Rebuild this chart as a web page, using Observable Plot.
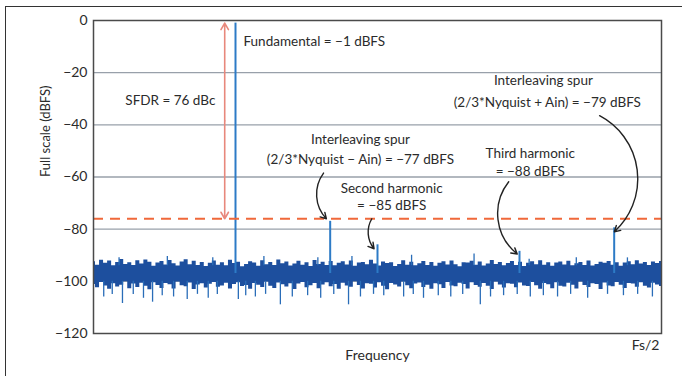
<!DOCTYPE html>
<html>
<head>
<meta charset="utf-8">
<script src="https://cdn.jsdelivr.net/npm/d3@7"></script>
<script src="https://cdn.jsdelivr.net/npm/@observablehq/plot@0.6"></script>
<style>
  html, body { margin: 0; padding: 0; background: #fff; }
  #wrap { position: relative; width: 691px; height: 376px; overflow: hidden; }
  #border { position: absolute; left: 5px; top: 6px; width: 676px; height: 400px;
            border-left: 1.5px solid #333; border-top: 1.5px solid #333; pointer-events: none; }
</style>
</head>
<body>
<div id="wrap"><div id="border"></div></div>
<script>
// ---- data ----
const yTicks = [0, -20, -40, -60, -80, -100, -120];
const gridLevels = [-20, -40, -60, -80, -100];

const peakName  = ["Fundamental", "Interleaving spur (−)", "Second harmonic", "Third harmonic", "Interleaving spur (+)"];
const peakFreq  = [0.25, 0.4167, 0.5, 0.75, 0.9167];
const peakLevel = [-1, -77, -86, -88.5, -79.5];

const sfdrLevel = -76;
const fundamentalLevel = -1;

// noise floor envelope (upper / lower edge of the dense band), evenly spread 0 .. Fs/2
const noiseHi = [
-92.5,-93.8,-91.9,-93.1,-92.2,-94.0,-92.8,-91.6,-93.5,-92.9,
-93.9,-92.1,-93.4,-91.8,-92.7,-94.2,-93.0,-92.4,-93.7,-92.0,
-93.3,-94.1,-92.6,-91.7,-93.6,-92.3,-93.9,-92.8,-94.3,-93.1,
-92.2,-93.8,-92.9,-94.0,-91.9,-93.2,-92.7,-94.4,-93.5,-92.5,
-93.0,-94.2,-92.1,-93.6,-92.8,-93.9,-91.8,-93.3,-92.6,-94.1,
-93.4,-92.3,-93.8,-92.9,-94.3,-92.0,-93.5,-92.7,-93.9,-92.4,
-94.0,-93.1,-92.5,-93.7,-92.2,-94.2,-93.0,-92.8,-93.6,-91.9,
-93.4,-94.1,-92.6,-93.2,-92.9,-94.3,-93.5,-92.1,-93.8,-92.7,
-94.0,-93.3,-92.4,-93.9,-92.8,-94.2,-93.1,-92.5,-93.7,-92.2,
-93.6,-94.4,-92.9,-93.0,-92.3,-93.8,-92.6,-94.1,-93.4,-92.0,
-93.5,-92.8,-94.0,-93.2,-92.4,-93.9,-92.7,-94.3,-93.1,-92.5,
-93.6,-92.1,-93.8,-92.9,-94.2,-93.0,-92.6,-93.7,-92.3,-94.0,
-93.3,-92.8,-93.9,-92.2,-94.1,-93.5,-92.7,-93.1,-92.4,-93.8,
-92.9,-94.2,-93.0,-92.5,-93.6,-92.1,-93.4,-92.8,-93.9,-92.6,
-93.2,-92.4];
const noiseLo = [
-101.2,-102.5,-100.4,-101.8,-103.0,-100.9,-102.2,-101.5,-100.2,-102.8,
-101.0,-102.4,-100.7,-101.9,-103.2,-100.5,-101.6,-102.7,-100.8,-101.3,
-102.9,-100.3,-101.7,-102.1,-100.6,-103.1,-101.4,-100.9,-102.6,-101.1,
-100.4,-102.3,-101.8,-100.7,-102.9,-101.2,-100.5,-102.0,-101.6,-103.0,
-100.8,-101.5,-102.4,-100.3,-101.9,-102.7,-100.6,-101.3,-102.2,-100.9,
-103.1,-101.0,-100.4,-102.5,-101.7,-100.8,-102.8,-101.4,-100.5,-102.1,
-101.2,-103.0,-100.7,-101.8,-102.3,-100.2,-101.6,-102.9,-100.9,-101.1,
-102.6,-100.5,-101.9,-103.2,-100.8,-101.4,-102.2,-100.3,-101.7,-102.8,
-101.0,-100.6,-102.4,-101.5,-103.0,-100.9,-101.3,-102.7,-100.4,-101.8,
-102.1,-100.7,-101.2,-102.9,-100.5,-101.6,-102.3,-100.8,-101.9,-103.1,
-100.3,-101.4,-102.6,-100.9,-101.1,-102.5,-100.6,-101.8,-102.0,-100.4,
-101.7,-103.0,-100.8,-101.3,-102.8,-100.5,-101.9,-102.2,-100.7,-101.5,
-102.9,-100.3,-101.6,-102.4,-100.9,-101.2,-103.1,-100.6,-101.8,-102.1,
-100.4,-101.5,-102.7,-100.8,-101.0,-102.3,-100.5,-101.9,-102.6,-100.7,
-101.4,-102.0];

// isolated downward noise spikes
const spikeDownFreq  = [0.018,0.033,0.051,0.070,0.088,0.104,0.121,0.141,0.165,0.183,0.202,0.218,0.255,0.268,0.285,0.303,0.329,0.350,0.377,0.400,0.423,0.449,0.470,0.493,0.511,0.546,0.563,0.581,0.607,0.629,0.650,0.681,0.699,0.722,0.746,0.769,0.792,0.817,0.840,0.870,0.905,0.933,0.958,0.984];
const spikeDownLevel = [-106,-105,-108.5,-105,-106.5,-108,-105.5,-106,-107,-105,-106.5,-105,-107,-105.5,-106,-105,-109,-106,-105.5,-106.5,-105,-109,-106,-105,-105.5,-106,-105,-106.5,-105.5,-106,-105,-109,-106,-105.5,-105,-106,-105.5,-106,-105,-106.5,-105,-105.5,-105,-106];
// isolated upward noise spikes
const spikeUpFreq  = [0.045,0.130,0.210,0.300,0.395,0.455,0.560,0.670,0.767,0.850,0.940];
const spikeUpLevel = [-91,-90.5,-91,-90.5,-91,-90.5,-90,-89.5,-91.5,-91,-91];

// ---- build tables ----
const noise = noiseHi.map((hi, i) => ({f: i / (noiseHi.length - 1), hi, lo: noiseLo[i]}));
const spikesDown = spikeDownFreq.map((f, i) => ({f, y: spikeDownLevel[i]}));
const spikesUp = spikeUpFreq.map((f, i) => ({f, y: spikeUpLevel[i]}));
const peaks = peakFreq.map((f, i) => ({name: peakName[i], f, y: peakLevel[i]}));

// annotation texts (anchored in data space)
const labels = [
  {text: "Fundamental = −1 dBFS", f: 0.264, y: -8, anchor: "start"},
  {text: "SFDR = 76 dBc", f: 0.056, y: -30.7, anchor: "start"},
  {text: "Interleaving spur", f: 0.470, y: -45.6, anchor: "middle"},
  {text: "(2/3*Nyquist − Ain) = −77 dBFS", f: 0.470, y: -53.3, anchor: "middle"},
  {text: "Second harmonic", f: 0.525, y: -64.6, anchor: "middle"},
  {text: "= −85 dBFS", f: 0.525, y: -70.9, anchor: "middle"},
  {text: "Interleaving spur", f: 0.792, y: -23.0, anchor: "middle"},
  {text: "(2/3*Nyquist + Ain) = −79 dBFS", f: 0.799, y: -31.4, anchor: "middle"},
  {text: "Third harmonic", f: 0.769, y: -51.0, anchor: "middle"},
  {text: "= −88 dBFS", f: 0.769, y: -57.8, anchor: "middle"}
];
const callouts = [
  {f1: 0.405, y1: -58.5, f2: 0.410, y2: -76.0, bend: -40},
  {f1: 0.490, y1: -76.0, f2: 0.494, y2: -87.5, bend: -35},
  {f1: 0.731, y1: -61.8, f2: 0.746, y2: -89.5, bend: -45},
  {f1: 0.891, y1: -36.5, f2: 0.917, y2: -81.0, bend: 55}
];
const sfdrX = 0.231;
const sfdrMid = (sfdrLevel + fundamentalLevel) / 2;

const font = "Lato, 'Open Sans', sans-serif";

const chart = Plot.plot({
  width: 691,
  height: 376,
  marginLeft: 93,
  marginRight: 30,
  marginTop: 20,
  marginBottom: 43,
  x: {domain: [0, 1], axis: null},
  y: {domain: [-120, 0], axis: null},
  style: {fontFamily: font, fontSize: "13px", color: "#2b2b2b", background: "transparent"},
  marks: [
    Plot.ruleY(gridLevels, {stroke: "#98a0aa", strokeWidth: 1.3}),
    Plot.areaY(noise, {x: "f", y1: "lo", y2: "hi", fill: "#1d4f9e", curve: "step"}),
    Plot.ruleX(spikesDown, {x: "f", y1: -100, y2: "y", stroke: "#2a6db8", strokeWidth: 1.3}),
    Plot.ruleX(spikesUp, {x: "f", y1: -94, y2: "y", stroke: "#2a6db8", strokeWidth: 1.3}),
    Plot.ruleX(peaks, {x: "f", y1: -97, y2: "y", stroke: "#2d7bc6", strokeWidth: 2}),
    Plot.ruleY([sfdrLevel], {stroke: "#f0683a", strokeWidth: 2.2, strokeDasharray: "10,7"}),
    Plot.arrow([{y1: sfdrMid, y2: fundamentalLevel}, {y1: sfdrMid, y2: sfdrLevel}],
      {x1: sfdrX, x2: sfdrX, y1: "y1", y2: "y2", stroke: "#e8887c", strokeWidth: 1.6, headLength: 7}),
    ...callouts.map(c => Plot.arrow([c], {x1: "f1", y1: "y1", x2: "f2", y2: "y2",
      bend: c.bend, stroke: "#222", strokeWidth: 1.4, headLength: 7})),
    ...["start", "middle"].map(a => Plot.text(labels.filter(d => d.anchor === a),
      {x: "f", y: "y", text: "text", textAnchor: a, fontSize: 13.5, fill: "#2b2b2b"})),
    Plot.frame({stroke: "#4a4a4a", strokeWidth: 1.5}),
    Plot.axisY({ticks: yTicks, tickSize: 0, tickPadding: 6, label: null, fontSize: 14}),
    Plot.text(["Full scale (dBFS)"], {frameAnchor: "left", dx: -48, rotate: -90, fontSize: 13, fill: "#2b2b2b"}),
    Plot.text(["Frequency"], {frameAnchor: "bottom", dy: 26, fontSize: 14, fill: "#2b2b2b"}),
    Plot.text(["Fs/2"], {frameAnchor: "bottom-right", textAnchor: "end", dx: -2, dy: 16, fontSize: 14, fill: "#2b2b2b"})
  ]
});
document.getElementById("wrap").prepend(chart);
chart.style.position = "absolute";
chart.style.left = "0";
chart.style.top = "0";
</script>
</body>
</html>
